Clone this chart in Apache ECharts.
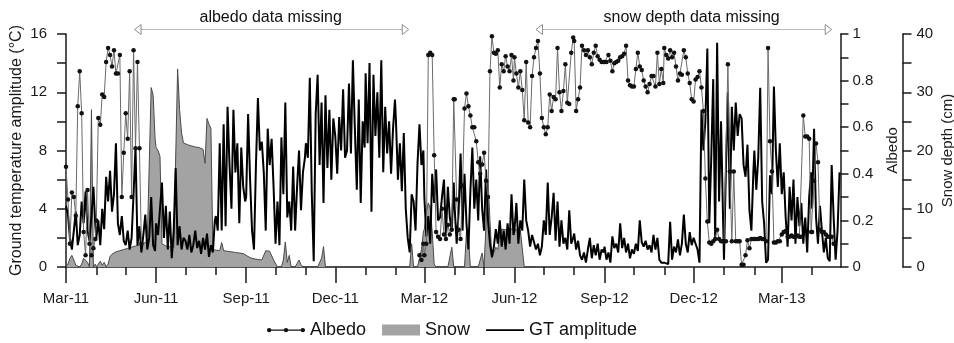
<!DOCTYPE html>
<html><head><meta charset="utf-8">
<script src="https://cdn.jsdelivr.net/npm/echarts@6/dist/echarts.min.js"></script>
<style>html,body{margin:0;padding:0;background:#fff}#c{width:954px;height:343px}</style>
</head><body><div id="c"></div><script>
// ---------- DATA ----------
// Rows are calendar months starting March 2011; each row holds one value every 2 days (1st, 3rd, 5th ... of the month).
const firstMonth = '2011-03';
const gtRows = [
  [4.2,3.6,2.0,1.2,2.5,3.8,1.5,2.2,4.5,3.0,5.2,2.5,1.8,3.5,5.5,2.8],          // Mar-11
  [2.0,3.2,1.5,4.0,2.6,6.2,4.5,6.6,3.8,5.0,8.5,3.0,2.2,3.5,1.8],              // Apr-11
  [1.5,2.5,1.2,2.0,5.0,8.2,1.5,2.8,1.0,2.2,3.6,1.2,2.0,4.8,1.5,1.1],          // May-11
  [3.0,2.2,4.0,5.8,2.0,4.2,1.2,3.8,0.6,2.5,6.8,1.5,2.8,1.2,2.0],              // Jun-11
  [1.8,1.2,2.2,1.0,1.5,2.5,1.3,1.8,0.9,2.0,1.2,2.3,0.7,1.5,1.0,3.2],          // Jul-11
  [3.5,2.5,8.5,2.5,9.8,2.8,11.0,7.0,4.0,10.8,6.5,8.5,3.0,8.2,5.5,4.5],        // Aug-11
  [4.8,10.5,6.0,2.5,1.2,7.0,11.6,8.0,8.6,6.5,2.5,9.5,7.0,8.8,5.5],            // Sep-11
  [1.6,4.5,1.5,8.9,5.0,11.3,3.4,4.5,2.5,6.9,2.5,5.5,8.0,3.9,6.5,7.5],         // Oct-11
  [8.5,7.5,13.0,5.1,0.4,10.5,13.2,7.0,11.3,4.4,11.8,6.8,10.8,6.0,10.2],       // Nov-11
  [9.0,6.4,10.3,8.0,12.2,7.5,8.0,12.6,7.8,14.2,9.5,5.3,11.5,4.4,10.0,8.2],    // Dec-11
  [13.3,8.5,14.0,3.8,13.2,9.0,12.0,7.5,14.2,6.5,11.0,7.8,10.0,6.4,9.5,11.5],  // Jan-12
  [10.0,6.0,8.5,5.2,9.2,4.0,2.0,1.0,5.0,4.5,2.5,7.1,9.8,7.0,8.0],             // Feb-12
  [4.8,2.1,3.5,1.6,6.4,4.4,6.7,3.2,3.4,4.8,6.0,2.1,5.5,3.4,2.5,5.8],          // Mar-12
  [4.0,1.6,3.8,7.8,2.5,6.4,3.0,1.2,5.2,8.2,4.0,6.0,3.2,7.6,4.0],              // Apr-12
  [2.5,6.7,3.2,1.6,0.7,1.4,2.6,1.6,3.2,1.4,2.5,1.2,3.0,1.6,5.0,2.2],          // May-12
  [2.5,4.4,1.6,3.2,2.5,6.0,3.2,2.5,1.4,2.2,2.2,1.2,1.6,0.8,1.4],              // Jun-12
  [3.2,2.2,5.8,2.2,3.4,5.1,1.8,4.5,1.4,3.2,1.6,2.0,1.2,3.9,1.6,2.0],          // Jul-12
  [2.3,1.2,1.8,0.8,0.5,1.0,0.3,1.2,2.0,0.6,1.5,0.8,1.6,0.5,1.2,1.0],          // Aug-12
  [1.4,0.5,1.0,0.3,2.1,1.3,1.6,1.0,3.0,1.3,2.0,1.0,1.6,0.6,1.2],              // Sep-12
  [0.9,1.6,1.1,3.2,1.7,1.4,1.8,1.2,1.5,1.0,2.2,1.2,2.0,0.5,0.3,0.4],          // Oct-12
  [0.3,0.4,0.2,3.1,0.5,1.4,1.0,1.9,0.8,1.6,3.6,1.6,1.0,2.4,1.5],              // Nov-12
  [2.0,1.6,1.2,0.3,10.8,8.0,10.0,15.0,3.0,7.5,12.9,2.0,15.4,4.5,10.0,3.5],    // Dec-12
  [0.5,6.8,12.0,4.0,11.0,8.0,11.3,9.0,10.5,10.2,7.0,6.2,8.4,3.9,2.5,6.5],     // Jan-13
  [8.0,5.3,7.5,12.3,4.5,3.0,0.3,0.5,6.3,5.0,12.4,8.0,5.5,8.5],                // Feb-13
  [5.0,6.5,3.4,1.4,5.5,3.2,6.0,1.6,4.8,2.8,4.4,1.6,3.4,1.0,4.8,6.5],          // Mar-13
  [4.0,9.5,3.4,1.6,4.2,2.5,1.0,2.0,0.6,0.4,7.0,3.4,0.5,2.5,6.5]               // Apr-13
];
const snowRows = [
  [0,0.5,1.5,2.0,1.2,0.3,0,0,0.5,1.5,1.8,0.8,0,27,0,0.5],                    // Mar-11
  [0,0.5,1.0,0.3,0.8,0,0.5,1.8,2.2,2.4,2.6,2.5,2.8,3.0,3.0],                  // Apr-11
  [3.0,3.2,3.3,3.4,3.5,3.6,3.6,3.8,3.9,4.0,4.2,4.5,4.8,30.8,29.5,22.0],       // May-11
  [20.5,20.0,19.0,4.0,3.8,3.6,3.5,3.5,3.4,3.3,3.4,34.0,27.0,23.0,21.3],       // Jun-11
  [21.2,21.0,21.0,20.8,20.8,20.6,20.6,20.5,20.5,20.2,17.8,25.5,24.5,23.8,3.0,2.9], // Jul-11
  [2.9,2.8,2.8,4.2,2.8,2.7,2.7,2.6,2.6,2.5,2.5,2.4,2.4,2.3,2.3,2.2],          // Aug-11
  [2.0,1.8,1.6,1.5,1.4,1.3,1.3,1.4,1.2,1.3,2.8,2.6,2.7,2.4,1.2],              // Sep-11
  [1.0,0,0,0,1.2,4.3,0.8,2.0,0,0,0,0.6,1.2,0.4,0,0],                          // Oct-11
  [0,0,0,0,0,0,0,0,1.5,3.5,0,0,0,0,0],                                        // Nov-11
  [0,0,0,0,0,0,0,0,0,0,0,0,0,0,0,0],                                          // Dec-11
  [0,0,0,0,0,0,0,0,0,0,0,0,0,0,0,0],                                          // Jan-12
  [0,0,0,0,0,0,0,0,4.0,0,0,0,1.5,3.0,6.0],                                    // Feb-12
  [6.5,9.5,11.0,10.0,6.0,0.5,0,0,0,0,0,0,0,0,3.4,0],                          // Mar-12
  [0,0,0,0,0,0,6.0,5.0,0,0,0,0,0,0,2.4],                                      // Apr-12
  [0,0,15.0,8.0,1.5,2.5,3.4,3.0,5.5,6.5,6.6,6.4,6.6,6.5,6.5,6.6],             // May-12
  [6.6,6.4,6.5,6.3,6.2,0,0,0,0,0,0,0]                                         // Jun-12
];
const albedoRows = [
  [0.43,0.29,0.10,0.32,0.30,0.22,0.69,0.84,0.66,0.15,0.05,0.33,0.10,0.05,0.08,0.12], // Mar-11
  [0.20,0.64,0.61,0.74,0.73,0.88,0.94,0.91,0.86,0.93,0.83,0.83,0.91,0.30,0.49],      // Apr-11
  [0.66,0.55,0.84,0.30,0.93,0.51,0.88,0.51,0.10],                                    // May-11
  [],[],[],[],[],[],[],[],                                                           // Jun-11 .. Jan-12 missing
  [null,null,null,null,null,null,null,null,null,null,null,null,0.05,0.03,0.10],      // Feb-12
  [0.05,0.10,0.91,0.92,0.91,0.48,0.15,0.13,0.12,0.25,0.14,0.12,0.18,0.14,0.16,0.72], // Mar-12
  [0.72,0.29,0.16,0.12,0.35,0.68,0.745,0.69,0.65,0.60,0.60,0.54,0.45,0.40,0.44],     // Apr-12
  [0.49,0.37,0.30,0.84,0.99,0.92,0.915,0.93,0.77,0.87,0.84,0.905,0.86,0.84,0.91,0.80], // May-12
  [0.90,0.83,0.77,0.84,0.76,0.63,0.88,0.62,0.60,0.82,0.90,0.94,0.97,0.83,0.64],      // Jun-12
  [0.60,0.57,0.60,0.74,0.67,0.73,0.72,0.94,0.75,0.67,0.755,0.87,0.705,0.70,0.92,0.985], // Jul-12
  [0.97,0.67,0.72,0.77,0.95,0.93,0.91,0.93,0.90,0.87,0.92,0.95,0.905,0.89,0.88,0.88], // Aug-12
  [0.88,0.88,0.91,0.885,0.84,0.875,0.88,0.885,0.90,0.905,0.915,0.95,0.80,0.78,0.775], // Sep-12
  [0.775,0.85,0.92,0.86,0.845,0.80,0.775,0.75,0.785,0.82,0.82,0.775,0.92,0.785,0.85,0.79], // Oct-12
  [0.94,0.91,0.895,0.93,0.90,0.92,0.86,0.80,0.83,0.825,0.93,0.90,0.83,0.79,0.72],    // Nov-12
  [0.71,0.805,0.815,0.84,0.77,0.67,0.38,0.195,0.105,0.10,0.11,0.12,0.16,0.12,0.11,0.11], // Dec-12
  [0.11,0.11,0.87,0.41,0.11,0.41,0.11,0.11,0.11,0.01,0.01,0.05,0.115,0.08,0.12,0.12], // Jan-13
  [0.12,0.12,0.12,0.125,0.12,0.12,0.11,0.94,0.54,0.41,0.105,0.105,0.11,0.11],        // Feb-13
  [0.14,0.15,0.155,0.13,0.13,0.135,0.13,0.13,0.135,0.13,0.13,0.65,0.56,0.56,0.55,0.15], // Mar-13
  [0.15,0.37,0.53,0.45,0.16,0.15,0.15,0.14,0.13,0.13,0.13,0.10]                      // Apr-13
];
const xStart = '2011-03-01';
const xEnd = '2013-04-30';
const tickLabels = ['Mar-11','Jun-11','Sep-11','Dec-11','Mar-12','Jun-12','Sep-12','Dec-12','Mar-13'];
const tickDates = ['2011-03-01','2011-06-01','2011-09-01','2011-12-01','2012-03-01','2012-06-01','2012-09-01','2012-12-01','2013-03-01'];
const missingLabels = ['albedo data missing', 'snow depth data missing'];
const missingFrom = ['2011-05-10', '2012-06-23'];
const missingTo = ['2012-02-14', '2013-04-21'];
const missingTextAt = ['2011-09-26', '2012-11-29'];
const legendNames = ['Albedo', 'Snow', 'GT amplitude'];

// ---------- HELPERS ----------
const DAY = 86400000;
function ts(s){ const p = s.split('-').map(Number); return Date.UTC(p[0], p[1]-1, p[2] || 1); }
const T0 = ts(xStart);
const dayOf = s => (ts(s) - T0) / DAY;
function rowsToPoints(rows){
  const p0 = firstMonth.split('-').map(Number);
  const pts = [];
  rows.forEach((row, r) => {
    const mi = p0[1] - 1 + r;
    const y = p0[0] + Math.floor(mi / 12), m = mi % 12;
    row.forEach((v, k) => pts.push([(Date.UTC(y, m, 1 + 2 * k) - T0) / DAY, v]));
  });
  return pts;
}
const gtPts = rowsToPoints(gtRows);
const snowPts = rowsToPoints(snowRows);
const albPts = rowsToPoints(albedoRows);
const X_MAX = dayOf(xEnd);
const quarterDays = tickDates.map(dayOf);
const monthDays = [];
for (let i = 0; ; i++) { const d = (Date.UTC(2011, 2 + i, 1) - T0) / DAY; if (d > X_MAX) break; monthDays.push(d); }

const FONT = 'Liberation Sans, Arial, sans-serif';
const AX = '#1a1a1a';
const axisLine = {show: true, onZero: false, lineStyle: {color: AX, width: 1.5}};
const tickStyle = {color: AX, width: 1.5};
const albIcon = 'path://M0,0 M38,11 M0,5 L38,5 L38,6.2 L0,6.2 Z M0,5.6 A2.2,2.2 0 1 1 4.4,5.6 A2.2,2.2 0 1 1 0,5.6 Z M16.8,5.6 A2.2,2.2 0 1 1 21.2,5.6 A2.2,2.2 0 1 1 16.8,5.6 Z M33.6,5.6 A2.2,2.2 0 1 1 38,5.6 A2.2,2.2 0 1 1 33.6,5.6 Z';
const gtIcon = 'path://M0,0 M38,11 M0,4.8 L38,4.8 L38,6.4 L0,6.4 Z';

const chart = echarts.init(document.getElementById('c'), null, {renderer: 'canvas'});
chart.setOption({
  animation: false,
  textStyle: {fontFamily: FONT},
  grid: {left: 66, right: 113.5, top: 34, bottom: 76, containLabel: false, outerBoundsMode: 'none'},
  legend: {
    left: 262, top: 316, itemWidth: 38, itemHeight: 11, itemGap: 16,
    textStyle: {fontSize: 18, color: '#111', fontFamily: FONT},
    data: [
      {name: legendNames[0], icon: albIcon},
      {name: legendNames[1], icon: 'rect', itemStyle: {color: '#a3a3a3', borderWidth: 0}},
      {name: legendNames[2], icon: gtIcon, itemStyle: {color: '#000', borderWidth: 0}}
    ]
  },
  xAxis: [
    {type: 'value', min: 0, max: X_MAX, position: 'bottom', axisLine: axisLine,
     axisTick: {show: true, customValues: quarterDays, length: 16, lineStyle: tickStyle},
     axisLabel: {customValues: quarterDays, margin: 24, fontSize: 15, color: AX, fontFamily: FONT,
       formatter: v => { const i = quarterDays.indexOf(v); return i >= 0 ? tickLabels[i] : ''; }},
     splitLine: {show: false}},
    {type: 'value', min: 0, max: X_MAX, position: 'bottom', axisLine: {show: false},
     axisTick: {show: true, customValues: monthDays, length: 8, lineStyle: tickStyle},
     axisLabel: {show: false}, splitLine: {show: false}}
  ],
  yAxis: [
    {type: 'value', min: 0, max: 16, interval: 2, position: 'left',
     name: 'Ground temperature amplitude (°C)', nameLocation: 'middle', nameGap: 41, nameRotate: 90, nameMoveOverlap: false,
     nameTextStyle: {fontSize: 16, color: AX, fontFamily: FONT},
     axisLine: axisLine, axisTick: {show: true, length: 9, lineStyle: tickStyle},
     axisLabel: {fontSize: 15, color: AX, margin: 19, fontFamily: FONT, formatter: v => (v % 4 === 0 ? String(v) : '')},
     splitLine: {show: false}},
    {type: 'value', min: 0, max: 1, interval: 0.1, position: 'right',
     name: 'Albedo', nameLocation: 'middle', nameGap: 45, nameRotate: 90, nameMoveOverlap: false,
     nameTextStyle: {fontSize: 15, color: AX, fontFamily: FONT},
     axisLine: axisLine, axisTick: {show: true, length: 8, lineStyle: tickStyle},
     axisLabel: {fontSize: 15, color: AX, margin: 12, fontFamily: FONT, formatter: v => {
       const k = Math.round(v * 10); if (k % 2) return ''; return k === 0 ? '0' : k === 10 ? '1' : (k / 10).toFixed(1); }},
     splitLine: {show: false}},
    {type: 'value', min: 0, max: 40, interval: 5, position: 'right', offset: 62,
     name: 'Snow depth (cm)', nameLocation: 'middle', nameGap: 38, nameRotate: 90, nameMoveOverlap: false,
     nameTextStyle: {fontSize: 15, color: AX, fontFamily: FONT},
     axisLine: axisLine, axisTick: {show: true, length: 9, lineStyle: tickStyle},
     axisLabel: {fontSize: 15, color: AX, margin: 14, fontFamily: FONT, formatter: v => (v % 10 === 0 ? String(v) : '')},
     splitLine: {show: false}}
  ],
  series: [
    {name: legendNames[1], type: 'line', xAxisIndex: 0, yAxisIndex: 2, data: snowPts, symbol: 'none',
     color: '#a3a3a3', lineStyle: {color: '#4a4a4a', width: 1}, areaStyle: {color: '#a3a3a3', opacity: 1}, z: 1},
    {name: legendNames[2], type: 'line', xAxisIndex: 0, yAxisIndex: 0, data: gtPts, symbol: 'none',
     color: '#000', lineStyle: {color: '#000', width: 2}, z: 3},
    {name: legendNames[0], type: 'line', xAxisIndex: 0, yAxisIndex: 1, data: albPts, symbol: 'circle', symbolSize: 4.5,
     showSymbol: true, connectNulls: false, color: '#111', itemStyle: {color: '#111'}, lineStyle: {color: '#6a6a6a', width: 1}, z: 4}
  ]
});

// annotation arrows above the plot (positioned through the x axis scale)
const Y_ARROW = 29.5;
const graphics = [];
missingLabels.forEach((lab, i) => {
  const x1 = chart.convertToPixel({xAxisIndex: 0}, dayOf(missingFrom[i]));
  const x2 = chart.convertToPixel({xAxisIndex: 0}, dayOf(missingTo[i]));
  const xt = chart.convertToPixel({xAxisIndex: 0}, dayOf(missingTextAt[i]));
  graphics.push({type: 'line', shape: {x1: x1 + 6, y1: Y_ARROW, x2: x2 - 6, y2: Y_ARROW}, style: {stroke: '#b8b8b8', lineWidth: 1}, silent: true});
  graphics.push({type: 'polygon', shape: {points: [[x1, Y_ARROW], [x1 + 6.5, Y_ARROW - 5], [x1 + 6.5, Y_ARROW + 5]]}, style: {fill: '#fff', stroke: '#8c8c8c', lineWidth: 1}, silent: true});
  graphics.push({type: 'polygon', shape: {points: [[x2, Y_ARROW], [x2 - 6.5, Y_ARROW - 5], [x2 - 6.5, Y_ARROW + 5]]}, style: {fill: '#fff', stroke: '#8c8c8c', lineWidth: 1}, silent: true});
  graphics.push({type: 'text', x: xt, y: 18, style: {text: lab, font: '16px ' + FONT, fill: '#111', align: 'center', verticalAlign: 'middle'}, silent: true});
});
chart.setOption({graphic: graphics});
</script></body></html>
